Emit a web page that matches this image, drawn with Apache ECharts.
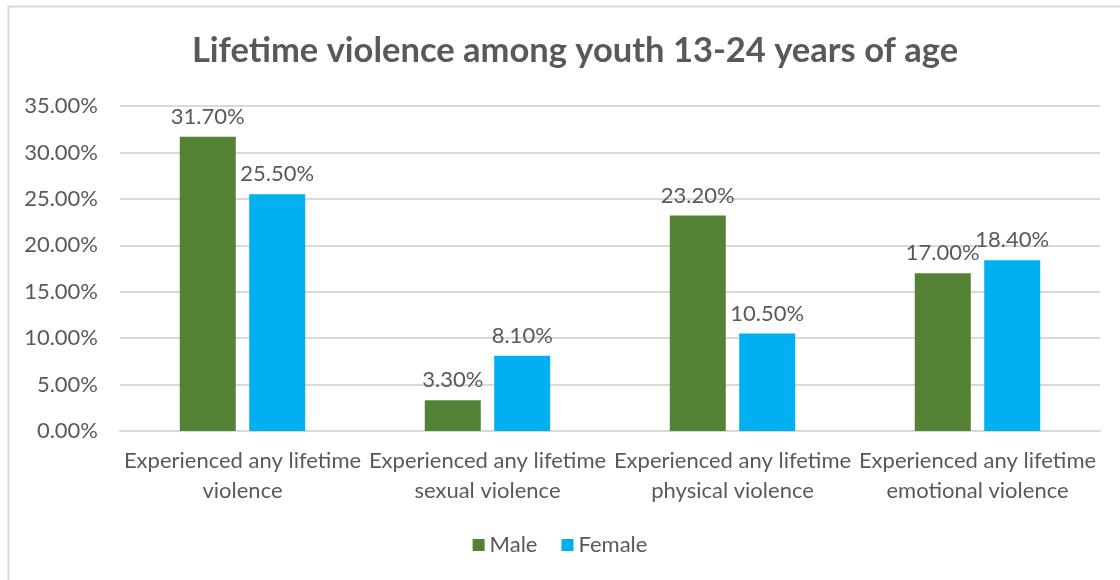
<!DOCTYPE html>
<html>
<head>
<meta charset="utf-8">
<script src="https://cdn.jsdelivr.net/npm/echarts@6/dist/echarts.min.js"></script>
<style>
  html, body { margin: 0; padding: 0; background: #fff; }
  #chart { width: 1120px; height: 580px; }
</style>
</head>
<body>
<div id="chart"></div>
<script>
// Survey categories (two-line axis labels)
const categories = [
  'Experienced any lifetime\nviolence',
  'Experienced any lifetime\nsexual violence',
  'Experienced any lifetime\nphysical violence',
  'Experienced any lifetime\nemotional violence'
];
// Percentages by sex
const maleValues = [31.7, 3.3, 23.2, 17.0];
const femaleValues = [25.5, 8.1, 10.5, 18.4];
// Y axis ticks
const yTicks = [0, 5, 10, 15, 20, 25, 30, 35];

const FONT = 'Lato, "Open Sans", sans-serif';
const TEXT = '#595959';

const chart = echarts.init(document.getElementById('chart'), null, { renderer: 'canvas' });

const labelOpt = {
  show: true,
  position: 'top',
  distance: 9,
  color: TEXT,
  fontFamily: FONT,
  fontSize: 22,
  formatter: p => p.value.toFixed(2) + '%'
};

chart.setOption({
  backgroundColor: '#fff',
  animation: false,
  graphic: [{
    type: 'rect',
    shape: { x: 8.5, y: 6.5, width: 1200, height: 700 },
    style: { fill: 'none', stroke: '#d9d9d9', lineWidth: 2 },
    silent: true,
    z: -10
  }],
  title: {
    text: 'Lifetime violence among youth 13-24 years of age',
    left: 570,
    textAlign: 'center',
    top: 28,
    textStyle: { color: TEXT, fontFamily: FONT, fontSize: 34.5, fontWeight: 'bold' }
  },
  legend: {
    data: ['Male', 'Female'],
    bottom: 19,
    left: 'center',
    itemWidth: 12,
    itemHeight: 12,
    itemGap: 24,
    icon: 'rect',
    textStyle: { color: TEXT, fontFamily: FONT, fontSize: 22 }
  },
  grid: { left: 120, right: 20, top: 106, bottom: 149, containLabel: false },
  xAxis: {
    type: 'category',
    data: categories,
    axisLine: { show: true, lineStyle: { color: '#d9d9d9', width: 2 } },
    axisTick: { show: false },
    axisLabel: {
      color: TEXT, fontFamily: FONT, fontSize: 22, lineHeight: 30, margin: 15,
      interval: 0
    }
  },
  yAxis: {
    type: 'value',
    min: yTicks[0],
    max: yTicks[yTicks.length - 1],
    interval: yTicks[1] - yTicks[0],
    axisLine: { show: false },
    axisTick: { show: false },
    splitLine: { lineStyle: { color: '#d9d9d9', width: 2 } },
    axisLabel: {
      color: TEXT, fontFamily: FONT, fontSize: 22, margin: 22,
      formatter: v => v.toFixed(2) + '%'
    }
  },
  series: [
    {
      name: 'Male',
      type: 'bar',
      data: maleValues,
      barWidth: 56,
      barGap: '24%',
      itemStyle: { color: '#548235' },
      label: labelOpt
    },
    {
      name: 'Female',
      type: 'bar',
      data: femaleValues,
      barWidth: 56,
      itemStyle: { color: '#00B0F0' },
      label: labelOpt
    }
  ]
});
</script>
</body>
</html>
